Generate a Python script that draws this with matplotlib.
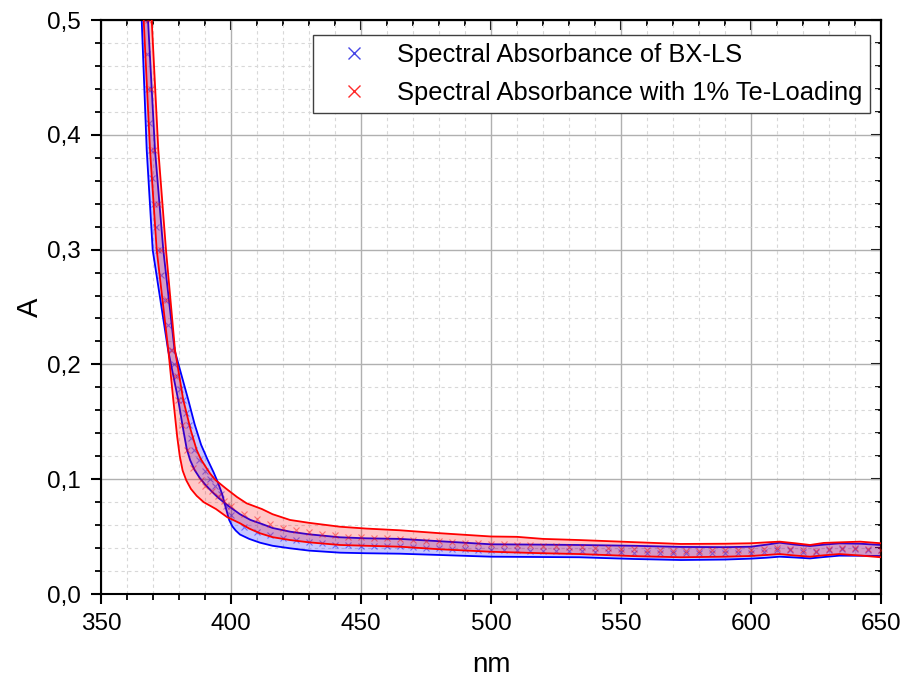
import numpy as np
import matplotlib
matplotlib.use("Agg")
import matplotlib.pyplot as plt
from matplotlib.ticker import MultipleLocator
from matplotlib.legend_handler import HandlerLine2D
from matplotlib.lines import Line2D

plt.rcParams['font.family'] = ['Liberation Sans', 'DejaVu Sans']

# ---------------- data ----------------
# BX-LS band: two boundary curves + centre markers
bx_edge1_nm = [364.9, 365.65, 367.58, 369.88, 375.8, 379.7, 381.65, 382.96, 384.3, 386.0,
               388.0, 390.0, 392.5, 395.0, 398.85, 403.46, 407.5, 411.9, 416.0, 422.7,
               430.0, 441.9, 452.0, 465.0, 480.0, 500.0, 520.0, 534.0, 555.0, 573.0,
               590.0, 600.0, 606.0, 611.0, 617.0, 622.7, 628.0, 634.0, 642.0, 650.0]
bx_edge1_A = [0.545, 0.5, 0.3868, 0.2997, 0.2125, 0.169, 0.1429, 0.1265, 0.1165, 0.108,
              0.101, 0.0955, 0.0895, 0.084, 0.077, 0.0695, 0.0645, 0.061, 0.0575, 0.0543,
              0.052, 0.0494, 0.0485, 0.048, 0.046, 0.0433, 0.043, 0.0427, 0.042, 0.041,
              0.0408, 0.0412, 0.043, 0.0447, 0.043, 0.0418, 0.043, 0.0441, 0.0438, 0.0427]

bx_edge2_nm = [367.2, 368.08, 370.77, 373.96, 378.3, 383.58, 386.0, 388.5, 391.0, 393.3,
               395.0, 396.6, 398.0, 399.3, 400.5, 401.8, 403.46, 407.0, 411.15, 416.0,
               422.7, 430.0, 441.9, 452.0, 465.0, 480.0, 500.0, 520.0, 534.0, 555.0,
               573.0, 590.0, 600.0, 606.0, 611.0, 617.0, 622.7, 628.0, 634.0, 642.0, 650.0]
bx_edge2_A = [0.55, 0.5, 0.3868, 0.2997, 0.2125, 0.169, 0.148, 0.13, 0.117, 0.106,
              0.097, 0.087, 0.075, 0.0645, 0.059, 0.0553, 0.0518, 0.048, 0.0447, 0.042,
              0.0398, 0.0378, 0.036, 0.0355, 0.0351, 0.034, 0.0325, 0.0322, 0.032, 0.0305,
              0.0296, 0.030, 0.0308, 0.0316, 0.0325, 0.0318, 0.031, 0.0322, 0.0334, 0.0333, 0.0331]

bx_mid_nm = [366.9, 367.5, 368.0, 368.6, 369.2, 369.8, 370.5, 371.2, 371.9, 373.2,
             374.5, 375.8, 377.0, 378.2, 379.3, 380.5, 381.6, 382.7, 383.7, 384.8,
             385.8, 387.5, 390.0, 392.0, 394.0, 396.0, 398.0, 400, 405, 410,
             415, 420, 425, 430, 435, 440, 445, 450, 455, 460,
             465, 470, 475, 480, 485, 490, 495, 500, 505, 510,
             515, 520, 525, 530, 535, 540, 545, 550, 555, 560,
             565, 570, 575, 580, 585, 590, 595, 600, 605, 610,
             615, 620, 625, 630, 635, 640, 645, 650]
bx_mid_A = [0.5, 0.47, 0.44, 0.41, 0.387, 0.362, 0.34, 0.32, 0.30, 0.278,
            0.256, 0.234, 0.2125, 0.2, 0.19, 0.179, 0.169, 0.158, 0.147, 0.136,
            0.1254, 0.117, 0.107, 0.1, 0.094, 0.087, 0.077, 0.069, 0.058, 0.054,
            0.051, 0.0485, 0.047, 0.0455, 0.0442, 0.043, 0.0425, 0.042, 0.0418, 0.0416,
            0.0415, 0.041, 0.0405, 0.040, 0.0395, 0.039, 0.0385, 0.038, 0.038, 0.0379,
            0.0377, 0.0376, 0.0375, 0.0374, 0.0372, 0.0369, 0.0366, 0.0363, 0.036, 0.0357,
            0.0355, 0.0353, 0.0353, 0.0353, 0.0354, 0.0355, 0.0357, 0.036, 0.037, 0.0384,
            0.038, 0.0368, 0.037, 0.038, 0.0388, 0.0388, 0.0385, 0.038]

# 1% Te-loaded band
te_edge1_nm = [365.8, 366.42, 368.85, 371.42, 375.88, 377.81, 379.3, 380.3, 381.4, 382.8,
               384.6, 386.8, 389.5, 394.23, 398.5, 403.46, 407.0, 411.15, 416.0, 422.7,
               430.0, 441.9, 452.0, 465.0, 480.0, 500.0, 520.0, 534.0, 555.0, 573.0,
               590.0, 600.0, 606.0, 611.0, 617.0, 622.7, 628.0, 634.0, 642.0, 650.0]
te_edge1_A = [0.55, 0.5, 0.3868, 0.2997, 0.2125, 0.169, 0.137, 0.12, 0.1075, 0.099,
              0.0915, 0.0855, 0.080, 0.074, 0.067, 0.0616, 0.057, 0.0529, 0.0495, 0.047,
              0.045, 0.0427, 0.042, 0.0412, 0.039, 0.0368, 0.0355, 0.0348, 0.033, 0.032,
              0.0325, 0.0331, 0.034, 0.0348, 0.0335, 0.0325, 0.0337, 0.0348, 0.0335, 0.032]

te_edge2_nm = [368.9, 369.5, 372.04, 375.0, 378.46, 381.65, 384.5, 386.8, 388.4, 390.2,
               392.0, 394.04, 398.0, 402.3, 406.0, 411.9, 416.0, 422.7, 430.0, 441.9,
               452.0, 465.0, 480.0, 500.0, 510.0, 520.0, 534.0, 550.0, 573.0, 590.0,
               600.0, 606.0, 611.0, 617.0, 622.7, 628.0, 634.0, 642.0, 650.0]
te_edge2_A = [0.55, 0.5, 0.3868, 0.2997, 0.2125, 0.169, 0.1429, 0.1254, 0.1175, 0.111,
              0.1048, 0.0993, 0.092, 0.0845, 0.079, 0.074, 0.0695, 0.0645, 0.062, 0.0586,
              0.057, 0.0555, 0.053, 0.0501, 0.0498, 0.048, 0.047, 0.0456, 0.0436, 0.0438,
              0.0442, 0.045, 0.0456, 0.0442, 0.0427, 0.0445, 0.045, 0.0456, 0.0442]

te_mid_nm = [367.96, 369.2, 370.45, 371.8, 373.2, 375.2, 377.2, 378.4, 379.7, 381.3,
             383.0, 385.5, 388.5, 390.0, 392.5, 395.0, 397.5, 400, 405, 410,
             415, 420, 425, 430, 435, 440, 445, 450, 455, 460,
             465, 470, 475, 480, 485, 490, 495, 500, 505, 510,
             515, 520, 525, 530, 535, 540, 545, 550, 555, 560,
             565, 570, 575, 580, 585, 590, 595, 600, 605, 610,
             615, 620, 625, 630, 635, 640, 645, 650]
te_mid_A = [0.5, 0.44, 0.3868, 0.34, 0.2997, 0.256, 0.2125, 0.19, 0.169, 0.147,
            0.1254, 0.11, 0.0993, 0.094, 0.09, 0.0855, 0.081, 0.077, 0.070, 0.065,
            0.061, 0.0575, 0.0555, 0.054, 0.0525, 0.051, 0.050, 0.0495, 0.049, 0.0485,
            0.048, 0.0473, 0.0466, 0.046, 0.0452, 0.0445, 0.044, 0.0435, 0.0432, 0.043,
            0.0425, 0.042, 0.0415, 0.0412, 0.041, 0.0405, 0.04, 0.0395, 0.039, 0.0385,
            0.038, 0.0378, 0.0378, 0.0378, 0.0379, 0.038, 0.0383, 0.0387, 0.0393, 0.040,
            0.0395, 0.038, 0.0378, 0.039, 0.040, 0.0398, 0.0393, 0.038]

series_labels = ["Spectral Absorbance of BX-LS", "Spectral Absorbance with 1% Te-Loading"]
x_ticks = [350, 400, 450, 500, 550, 600, 650]
y_ticks = [0.0, 0.1, 0.2, 0.3, 0.4, 0.5]
y_tick_labels = ["0,0", "0,1", "0,2", "0,3", "0,4", "0,5"]
x_label = "nm"
y_label = "A"

# ---------------- figure ----------------
fig = plt.figure(figsize=(9.03, 6.84), dpi=100)
ax = fig.add_axes([101 / 903, 1 - 594 / 684, 780 / 903, 574 / 684])

BLUE = '#0000ff'
RED = '#ff0000'

def band(ax, x1, y1, x2, y2, color, z):
    xs = np.concatenate([np.asarray(x1), np.asarray(x2)[::-1]])
    ys = np.concatenate([np.asarray(y1), np.asarray(y2)[::-1]])
    ax.fill(xs, ys, color=color, alpha=0.22, lw=0, zorder=z)
    ax.plot(x1, y1, color=color, lw=1.3, zorder=z + 0.1)
    ax.plot(x2, y2, color=color, lw=1.3, zorder=z + 0.1)

band(ax, bx_edge1_nm, bx_edge1_A, bx_edge2_nm, bx_edge2_A, BLUE, 2)
ax.plot(bx_mid_nm, bx_mid_A, ls='none', marker='x', ms=5, mew=0.8,
        color=BLUE, alpha=0.45, zorder=2.2)
band(ax, te_edge1_nm, te_edge1_A, te_edge2_nm, te_edge2_A, RED, 3)
ax.plot(te_mid_nm, te_mid_A, ls='none', marker='x', ms=5, mew=0.8,
        color=RED, alpha=0.45, zorder=3.2)

ax.set_xlim(350, 650)
ax.set_ylim(0, 0.5)
ax.set_xticks(x_ticks)
ax.set_xticklabels([str(t) for t in x_ticks])
ax.set_yticks(y_ticks)
ax.set_yticklabels(y_tick_labels)
ax.xaxis.set_minor_locator(MultipleLocator(10))
ax.yaxis.set_minor_locator(MultipleLocator(0.02))

ax.grid(which='major', color='#b0b0b0', lw=1.0, ls='-', zorder=0)
ax.grid(which='minor', color='#d8d8d8', lw=0.8, ls=(0, (3, 3)), zorder=0)
ax.set_axisbelow(True)

for s in ax.spines.values():
    s.set_linewidth(1.5)
ax.tick_params(axis='x', which='major', direction='out', length=7, width=1.5,
               labelsize=17.5, pad=7, top=False)
ax.tick_params(axis='y', which='major', direction='out', length=7, width=1.5,
               labelsize=17.5, pad=7.5, right=False)
ax.tick_params(which='minor', direction='out', length=4, width=1.3,
               top=False, right=False)

secx = ax.secondary_xaxis('top')
secx.set_xticks(x_ticks)
secx.xaxis.set_minor_locator(MultipleLocator(10))
secx.tick_params(which='major', direction='in', length=7, width=1.5, labeltop=False)
secx.tick_params(which='minor', direction='in', length=4, width=1.3)
secx.spines['top'].set_linewidth(1.5)

secy = ax.secondary_yaxis('right')
secy.set_yticks(y_ticks)
secy.yaxis.set_minor_locator(MultipleLocator(0.02))
secy.tick_params(which='major', direction='in', length=7, width=1.5, labelright=False)
secy.tick_params(which='minor', direction='in', length=4, width=1.3)
secy.spines['right'].set_linewidth(1.5)

ax.set_xlabel(x_label, fontsize=20, labelpad=12)
ax.set_ylabel(y_label, fontsize=21, labelpad=2.5)


class RightMarkerHandler(HandlerLine2D):
    def get_xdata(self, legend, xdescent, ydescent, width, height, fontsize):
        xdata = np.array([-xdescent, -xdescent + width])
        return xdata, np.array([-xdescent + width * 0.75])


h1 = Line2D([], [], ls='none', marker='x', ms=8, mew=1.0, color='#4646e6')
h2 = Line2D([], [], ls='none', marker='x', ms=8, mew=1.0, color='#ff2a2a')
leg = ax.legend([h1, h2], series_labels, loc='upper right',
                bbox_to_anchor=(0.986, 0.974), borderaxespad=0, fontsize=18.4,
                frameon=True, fancybox=False, framealpha=1, edgecolor='#404040',
                borderpad=0.3, labelspacing=0.57, handlelength=2.6,
                handletextpad=0.4,
                handler_map={Line2D: RightMarkerHandler(numpoints=1)})
leg.get_frame().set_linewidth(1.0)
leg.set_zorder(10)

fig.savefig('out.png', dpi=100)
